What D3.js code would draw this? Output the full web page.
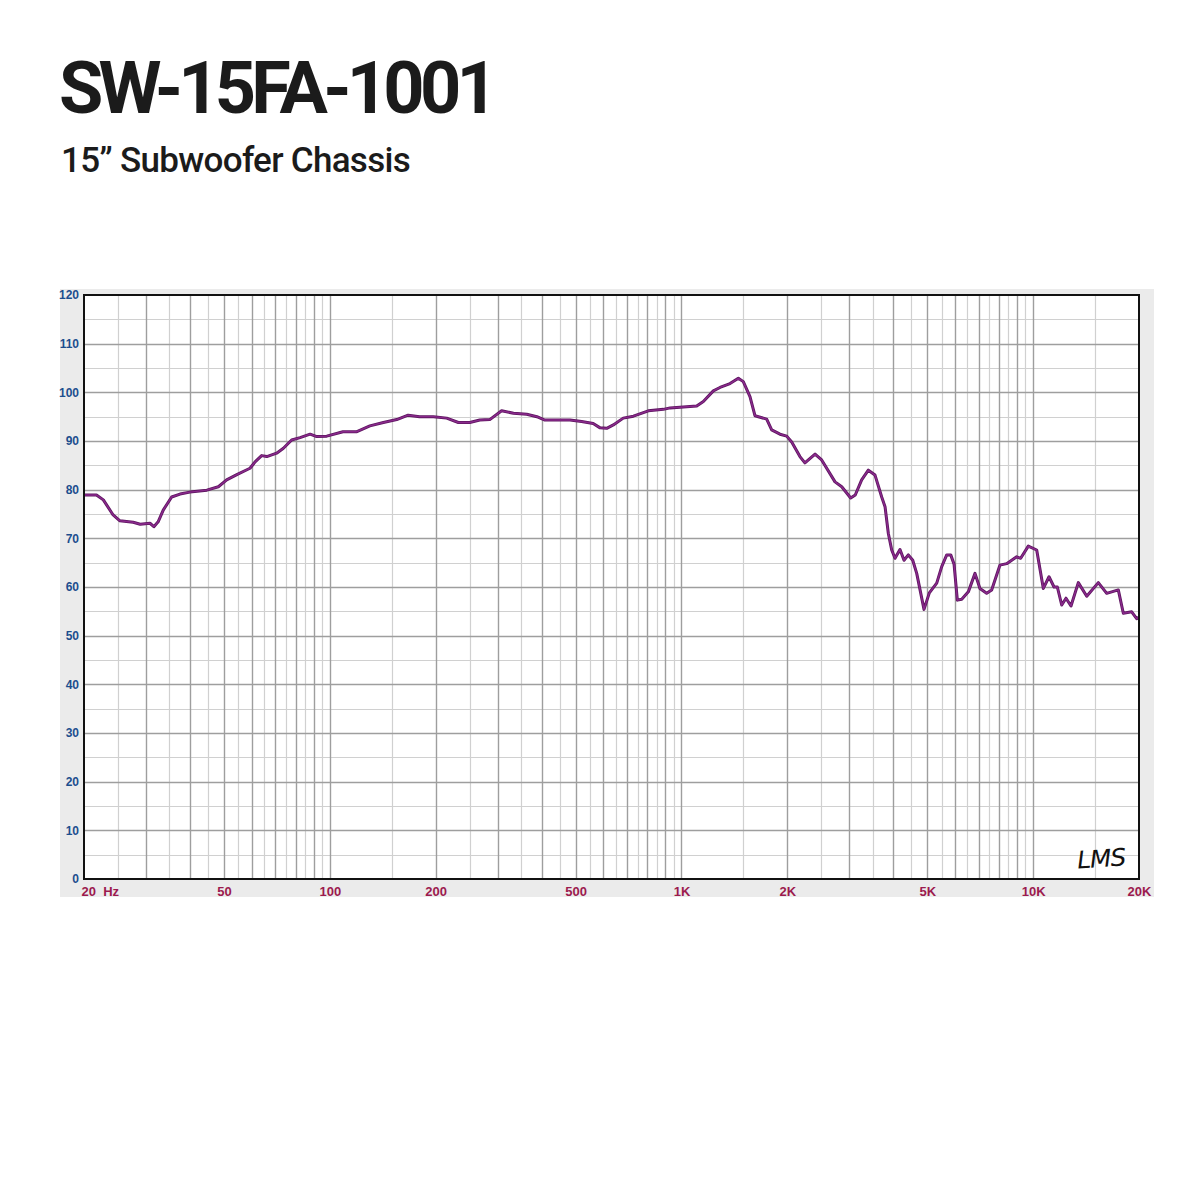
<!DOCTYPE html>
<html>
<head>
<meta charset="utf-8">
<script src="https://cdn.jsdelivr.net/npm/d3@7"></script>
<style>
  html, body { margin: 0; padding: 0; background: #ffffff; }
  svg { display: block; }
</style>
</head>
<body>
<svg id="chart" width="1200" height="1200"></svg>
<script>
// ---------- data ----------
const titleText = "SW-15FA-1001";
const subtitleText = "15\u201D Subwoofer Chassis";

// frequency (Hz) and SPL (dB)
const freqs = [20, 21.7, 22.7, 24.2, 25.3, 27.6, 28.9, 30.8, 31.6, 32.5, 33.6, 35.5, 37.5, 40, 44.7, 48.2,
  50.9, 54.4, 59.3, 61.3, 64, 66.2, 70.6, 73.8, 77.9, 82.3, 87.9, 91.8, 98, 109, 119, 130, 142, 155, 167,
  180, 197, 215, 232, 250, 267, 285, 308, 333, 363, 388, 409, 442, 482, 520, 561, 587, 613, 640, 683, 730,
  805, 888, 928, 1012, 1105, 1154, 1232, 1287, 1374, 1451, 1499, 1566, 1618, 1747, 1805, 1906, 1992, 2058,
  2172, 2244, 2398, 2504, 2733, 2856, 3028, 3120, 3254, 3399, 3551, 3710, 3792, 3875, 3961, 4048, 4182,
  4294, 4416, 4546, 4666, 4894, 5068, 5319, 5496, 5679, 5830, 5958, 6088, 6266, 6542, 6834, 7058, 7376,
  7622, 8048, 8410, 8978, 9217, 9688, 10236, 10690, 11096, 11466, 11716, 12058, 12402, 12814, 13442,
  14204, 15322, 16190, 17466, 18050, 19066, 19698, 20000];
const spl = [78.9, 78.9, 77.9, 74.8, 73.6, 73.3, 72.9, 73.1, 72.4, 73.4, 75.8, 78.5, 79.1, 79.5, 79.9, 80.6,
  82.0, 83.1, 84.4, 85.7, 87.0, 86.8, 87.5, 88.5, 90.2, 90.7, 91.4, 90.9, 91.0, 91.9, 91.9, 93.1, 93.8, 94.4, 95.3,
  95.0, 95.0, 94.7, 93.8, 93.8, 94.3, 94.4, 96.2, 95.7, 95.5, 95.0, 94.3, 94.3, 94.3, 94.0, 93.6, 92.7, 92.6, 93.3, 94.7, 95.1,
  96.2, 96.5, 96.8, 97.0, 97.2, 98.1, 100.3, 101.0, 101.8, 102.9, 102.2, 99.1, 95.2, 94.5, 92.3, 91.4, 91.0, 89.8,
  86.8, 85.5, 87.3, 86.1, 81.6, 80.6, 78.3, 78.9, 82.0, 84.0, 83.0, 78.5, 76.5, 71.0, 67.6, 65.9, 67.7,
  65.5, 66.6, 65.5, 62.8, 55.4, 58.8, 60.8, 64.2, 66.6, 66.6, 64.7, 57.3, 57.5, 59.0, 62.8, 59.7, 58.7,
  59.4, 64.5, 64.8, 66.2, 65.9, 68.4, 67.6, 59.7, 62.1, 60.0, 60.0, 56.3, 57.7, 56.1, 60.9,
  58.1, 60.9, 58.7, 59.4, 54.6, 54.9, 53.5, 53.8];

const yTickValues = [0, 10, 20, 30, 40, 50, 60, 70, 80, 90, 100, 110, 120];
const xTickValues = [20, 50, 100, 200, 500, 1000, 2000, 5000, 10000, 20000];
const xTickLabels = ["20  Hz", "50", "100", "200", "500", "1K", "2K", "5K", "10K", "20K"];

// ---------- layout ----------
const svg = d3.select("#chart");
const plot = { left: 84, right: 1139, top: 295, bottom: 879 };

const x = d3.scaleLog().domain([20, 20000]).range([plot.left, plot.right]);
const y = d3.scaleLinear().domain([0, 120]).range([plot.bottom, plot.top]);

// title
const fitText = (sel, target) => {
  const node = sel.node();
  const len = node.getComputedTextLength();
  const n = node.textContent.length;
  sel.style("letter-spacing", ((target - len) / n) + "px");
};
const t1 = svg.append("text")
  .attr("x", 59).attr("y", 113)
  .style("font-family", "Roboto, 'Noto Sans', sans-serif")
  .style("font-weight", 700)
  .style("font-size", "72px")
  .style("fill", "#1b1b1b")
  .text(titleText);
fitText(t1, 434);

const t2 = svg.append("text")
  .attr("x", 61).attr("y", 172)
  .style("font-family", "Roboto, 'Noto Sans', sans-serif")
  .style("font-weight", 500)
  .style("font-size", "35px")
  .style("fill", "#1b1b1b")
  .text(subtitleText);
fitText(t2, 349);

// grey panel
svg.append("rect")
  .attr("x", 60).attr("y", 289)
  .attr("width", 1094).attr("height", 608)
  .attr("fill", "#ebebeb");

// plot background
svg.append("rect")
  .attr("x", plot.left).attr("y", plot.top)
  .attr("width", plot.right - plot.left).attr("height", plot.bottom - plot.top)
  .attr("fill", "#ffffff");

// grid
const majorF = [], minorF = [];
[10, 100, 1000, 10000].forEach(dec => {
  for (let m = 1; m <= 9.5; m += 0.5) {
    const f = m * dec;
    if (f <= 20 || f >= 20000) continue;
    if (m === 1 && dec === 10) continue;
    if (Number.isInteger(m)) majorF.push(f); else minorF.push(f);
  }
});
const gGrid = svg.append("g");
gGrid.selectAll("line.minx").data(minorF).join("line")
  .attr("x1", d => Math.round(x(d)) + 0.5).attr("x2", d => Math.round(x(d)) + 0.5)
  .attr("y1", plot.top).attr("y2", plot.bottom)
  .attr("stroke", "#d0d0d0").attr("stroke-width", 1.2);
const minorY = d3.range(5, 120, 10);
gGrid.selectAll("line.miny").data(minorY).join("line")
  .attr("y1", d => Math.round(y(d)) + 0.5).attr("y2", d => Math.round(y(d)) + 0.5)
  .attr("x1", plot.left).attr("x2", plot.right)
  .attr("stroke", "#d0d0d0").attr("stroke-width", 1.2);
gGrid.selectAll("line.majx").data(majorF).join("line")
  .attr("x1", d => Math.round(x(d)) + 0.5).attr("x2", d => Math.round(x(d)) + 0.5)
  .attr("y1", plot.top).attr("y2", plot.bottom)
  .attr("stroke", "#9e9e9e").attr("stroke-width", 1.4);
gGrid.selectAll("line.majy").data(yTickValues.filter(v => v > 0 && v < 120)).join("line")
  .attr("y1", d => Math.round(y(d)) + 0.5).attr("y2", d => Math.round(y(d)) + 0.5)
  .attr("x1", plot.left).attr("x2", plot.right)
  .attr("stroke", "#9e9e9e").attr("stroke-width", 1.4);

// curve
const pts = freqs.map((f, i) => [f, spl[i]]);
const line = d3.line().x(d => x(d[0])).y(d => y(d[1])).curve(d3.curveLinear);
svg.append("path")
  .datum(pts)
  .attr("d", line)
  .attr("fill", "none")
  .attr("stroke", "#5e1660")
  .attr("stroke-width", 3)
  .attr("stroke-linejoin", "round");
svg.append("path")
  .datum(pts)
  .attr("d", line)
  .attr("fill", "none")
  .attr("stroke", "#8a2a8c")
  .attr("stroke-width", 1.4)
  .attr("stroke-linejoin", "round");

// frame
svg.append("rect")
  .attr("x", plot.left).attr("y", plot.top)
  .attr("width", plot.right - plot.left).attr("height", plot.bottom - plot.top)
  .attr("fill", "none").attr("stroke", "#111").attr("stroke-width", 2);

// y axis labels
const yAxis = d3.axisLeft(y).tickValues(yTickValues).tickSize(0).tickPadding(4);
const gy = svg.append("g").attr("transform", `translate(${plot.left - 1},0)`).call(yAxis);
gy.select(".domain").remove();
gy.selectAll("text")
  .style("font-family", "'Liberation Sans', Arial, sans-serif")
  .style("font-weight", 700)
  .style("font-size", "12px")
  .style("fill", "#1c4e8e");

// x axis labels
const xAxis = d3.axisBottom(x).tickValues(xTickValues)
  .tickFormat((d, i) => xTickLabels[i]).tickSize(0).tickPadding(7);
const gx = svg.append("g").attr("transform", `translate(0,${plot.bottom + 1})`).call(xAxis);
gx.select(".domain").remove();
gx.selectAll("text")
  .style("font-family", "'Liberation Sans', Arial, sans-serif")
  .style("font-weight", 700)
  .style("font-size", "13px")
  .style("fill", "#9c1a4e")
  .style("white-space", "pre");
gx.selectAll(".tick").filter(d => d === 20).select("text")
  .attr("text-anchor", "start").attr("x", 81 - x(20));

// LMS signature
svg.append("text")
  .attr("x", 1077).attr("y", 867)
  .attr("transform", "rotate(-4,1100,857)")
  .style("font-family", "'DejaVu Sans', sans-serif")
  .style("font-style", "italic")
  .style("font-weight", 400)
  .style("font-size", "24px")
  .style("letter-spacing", "-1px")
  .style("fill", "#111")
  .attr("textLength", 48)
  .attr("lengthAdjust", "spacingAndGlyphs")
  .text("LMS");
</script>
</body>
</html>
